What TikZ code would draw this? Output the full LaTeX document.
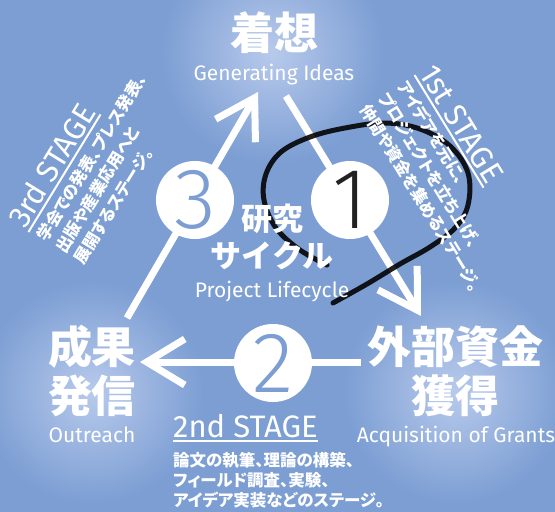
\documentclass[tikz,border=0pt]{standalone}
\usepackage{fontspec}
\setmainfont{Fira Sans}
\newfontfamily\jpfont{Noto Sans CJK JP}
\newfontfamily\jpnote{Noto Sans CJK JP}[RawFeature=+palt]
\newfontfamily\numfont{Fira Sans Light}
\usetikzlibrary{arrows.meta,calc}
\definecolor{bgblue}{RGB}{124,158,211}
\definecolor{glowblue}{RGB}{184,202,236}
\definecolor{inkgray}{RGB}{34,34,34}

\begin{document}
\begin{tikzpicture}[x=1pt, y=-1pt,
  jpbig/.style={text=white, align=center, inner sep=0pt,
                font=\jpfont\bfseries\fontsize{44}{49}\selectfont},
  jpmid/.style={text=white, align=center, inner sep=0pt,
                font=\jpfont\bfseries\fontsize{31}{37}\selectfont},
  entext/.style={text=white, inner sep=0pt, font=\fontsize{21}{21}\selectfont},
  stagetitle/.style={text=white, inner sep=0pt, anchor=base west,
                     font=\fontsize{31}{31}\selectfont},
  stagenote/.style={text=white, inner sep=0pt, anchor=base west,
                    font=\jpnote\bfseries\fontsize{16.5}{16.5}\selectfont},
  arrowline/.style={white, line width=7pt,
                    -{Straight Barb[length=38pt, width=46pt]}},
  numcirc/.style={circle, fill=white, minimum size=78pt, inner sep=0pt,
                  text=bgblue, font=\numfont\fontsize{86}{86}\selectfont},
  underl/.style={white, line width=2pt},
  scribble/.style={black, line width=5pt, line cap=round, line join=round,
                   opacity=0.88},
]

% ---- background and glows ----
\fill[bgblue] (0,0) rectangle (555,512);
\useasboundingbox (0,0) rectangle (555,512);
\shade[inner color=glowblue, outer color=bgblue] (272,52) circle[radius=112pt];
\shade[inner color=glowblue, outer color=bgblue] (92,392) circle[radius=112pt];
\shade[inner color=glowblue, outer color=bgblue] (455,392) circle[radius=112pt];

% ---- the three stage arrows ----
\coordinate (a1s) at (286,96);
\coordinate (a1e) at (421,316);
\coordinate (a2s) at (361,362);
\coordinate (a2e) at (140,362);
\coordinate (a3s) at (127,318);
\coordinate (a3e) at (258,92);
\draw[arrowline] (a1s) -- (a1e);
\draw[arrowline] (a2s) -- (a2e);
\draw[arrowline] (a3s) -- (a3e);

% ---- hand-drawn loop ----
\draw[scribble] plot[smooth, tension=0.6] coordinates {
  (327,265) (300,250) (276,228) (264,200) (266,174) (281,152) (310,137)
  (345,128) (385,123) (420,129) (450,146) (468,173) (468,205) (455,228)
  (430,247) (400,264) (367,284) (333,303)};

% ---- numbered circles ----
\node[numcirc, text=inkgray] (n1) at (350,200) {1};
\node[numcirc] (n2) at (273,363) {2};
\node[numcirc] (n3) at (195,200) {3};

% ---- corner labels ----
\node[jpbig] (idea) at (274,33) {着想};
\node[entext, anchor=base] (ideaen) at (274,80) {Generating Ideas};
\node[jpbig] (grant) at (455,371) {外部資金\\獲得};
\node[entext, anchor=base] (granten) at (456,442) {Acquisition of Grants};
\node[jpbig] (out) at (92,371) {成果\\発信};
\node[entext, anchor=base] (outen) at (92,442) {Outreach};
\node[jpmid] (cyc) at (272,237) {研究\\サイクル};
\node[entext, anchor=base] (cycen) at (272,297) {Project Lifecycle};

% ---- 1st STAGE ----
\node[stagetitle, rotate=-58.5] (s1) at (418,73) {1st STAGE};
\draw[underl] ($(s1.base west)!4pt!-90:(s1.base east)$)
  -- ($(s1.base east)!4pt!90:(s1.base west)$);
\node[stagenote, rotate=-58.5] (s1a) at ($(s1.base west)!25pt!-90:(s1.base east)$) {アイデアを元に、};
\node[stagenote, rotate=-58.5] (s1b) at ($(s1.base west)!47pt!-90:(s1.base east)$) {プロジェクトを立ち上げ、};
\node[stagenote, rotate=-58.5] (s1c) at ($(s1.base west)!69pt!-90:(s1.base east)$) {仲間や資金を集めるステージ。};

% ---- 2nd STAGE ----
\node[stagetitle] (s2) at (173,437) {2nd STAGE};
\draw[underl] ($(s2.base west)!4pt!-90:(s2.base east)$)
  -- ($(s2.base east)!4pt!90:(s2.base west)$);
\node[stagenote] (s2a) at ($(s2.base west)!29pt!-90:(s2.base east)$) {論文の執筆、理論の構築、};
\node[stagenote] (s2b) at ($(s2.base west)!49pt!-90:(s2.base east)$) {フィールド調査、実験、};
\node[stagenote] (s2c) at ($(s2.base west)!69pt!-90:(s2.base east)$) {アイデア実装などのステージ。};

% ---- 3rd STAGE ----
\node[stagetitle, rotate=58.5] (s3) at (25,230) {3rd STAGE};
\draw[underl] ($(s3.base west)!4pt!-90:(s3.base east)$)
  -- ($(s3.base east)!4pt!90:(s3.base west)$);
\node[stagenote, rotate=58.5] (s3a) at ($(s3.base west)!25pt!-90:(s3.base east)$) {学会での発表、プレス発表、};
\node[stagenote, rotate=58.5] (s3b) at ($(s3.base west)!47pt!-90:(s3.base east)$) {出版や産業応用へと};
\node[stagenote, rotate=58.5] (s3c) at ($(s3.base west)!69pt!-90:(s3.base east)$) {展開するステージ。};

\end{tikzpicture}
\end{document}
